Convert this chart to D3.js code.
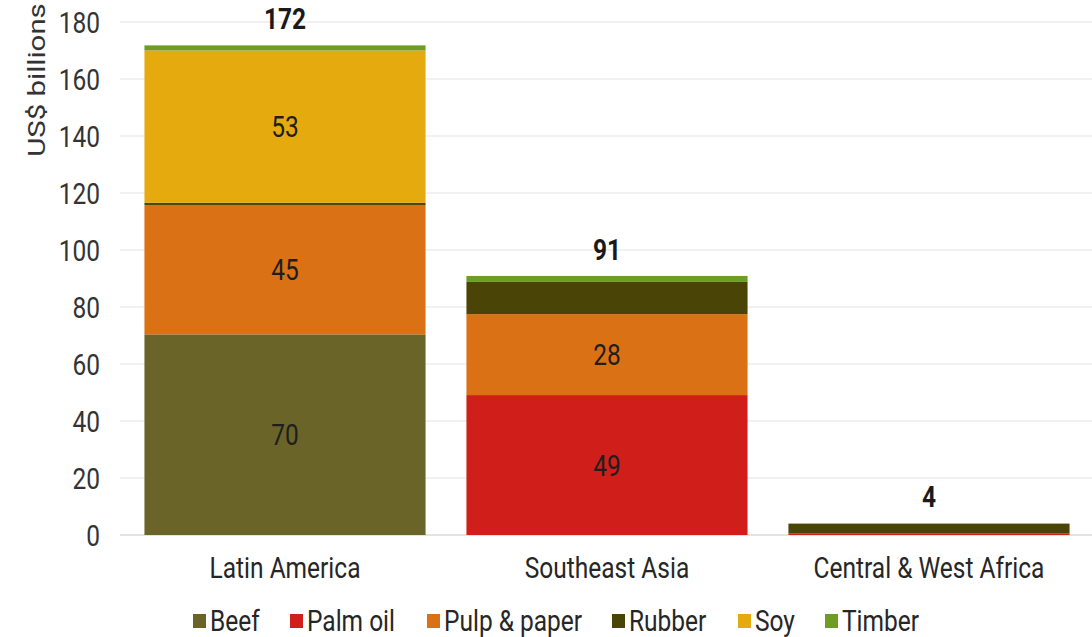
<!DOCTYPE html>
<html>
<head>
<meta charset="utf-8">
<script src="https://cdn.jsdelivr.net/npm/d3@7"></script>
<style>
  html, body { margin: 0; padding: 0; background: #ffffff; }
  svg { display: block; font-family: Roboto, "Noto Sans", sans-serif; }
</style>
</head>
<body>
<svg id="chart" width="1092" height="637"></svg>
<script>
// Regions along the x axis
const regions = ["Latin America", "Southeast Asia", "Central & West Africa"];

// Commodity series, stacked bottom to top (US$ billions per region)
const commodities = ["Beef", "Palm oil", "Pulp & paper", "Rubber", "Soy", "Timber"];
const beef       = [70.4, 0, 0];
const palmOil    = [0, 49.1, 0.6];
const pulpPaper  = [45.4, 28.4, 0];
const rubber     = [0.8, 11.3, 3.4];
const soy        = [53.4, 0, 0];
const timber     = [1.8, 2.1, 0];

const yTicks = [0, 20, 40, 60, 80, 100, 120, 140, 160, 180];

const colors = {
  "Beef": "#6b6428",
  "Palm oil": "#d01f1a",
  "Pulp & paper": "#da7115",
  "Rubber": "#4b4407",
  "Soy": "#e5ab0e",
  "Timber": "#6d9d25"
};

const seriesValues = {
  "Beef": beef,
  "Palm oil": palmOil,
  "Pulp & paper": pulpPaper,
  "Rubber": rubber,
  "Soy": soy,
  "Timber": timber
};

const rows = regions.map((r, i) => {
  const row = { region: r };
  commodities.forEach(c => { row[c] = seriesValues[c][i]; });
  return row;
});

// Text is drawn a little taller than wide
const FONT = 24.5;
const STRETCH = 1.2;

const svg = d3.select("#chart");

const x = d3.scaleBand()
  .domain(regions)
  .range([124, 1090])
  .paddingInner(0.127)
  .paddingOuter(0.0635);

const y = d3.scaleLinear()
  .domain([0, 180])
  .range([535, 22]);

// Adds a label whose glyphs are stretched vertically around (px, py)
function label(parent, px, py, txt, opts = {}) {
  const g = parent.append("g")
    .attr("transform", `translate(${px},${py}) ${opts.rotate ? "rotate(-90) scale(" + STRETCH + ",1)" : "scale(1," + STRETCH + ")"}`);
  return g.append("text")
    .attr("x", 0)
    .attr("y", 0)
    .attr("dy", "0.36em")
    .attr("text-anchor", opts.anchor || "middle")
    .attr("font-size", FONT)
    .attr("font-weight", opts.bold ? "bold" : "normal")
    .attr("fill", opts.fill || "#262626")
    .text(txt);
}

// Horizontal gridlines
svg.append("g")
  .selectAll("line")
  .data(yTicks)
  .join("line")
  .attr("x1", 120)
  .attr("x2", 1092)
  .attr("y1", d => y(d))
  .attr("y2", d => y(d))
  .attr("stroke", d => d === 0 ? "#c8c8c8" : "#e3e3e3")
  .attr("stroke-width", 1);

// Y axis tick labels
const yAxis = d3.axisLeft(y).tickValues(yTicks).tickSize(0).tickPadding(0);
const yg = svg.append("g").attr("transform", "translate(100,0)").call(yAxis);
yg.select(".domain").remove();
yg.selectAll(".tick text")
  .attr("font-size", FONT)
  .attr("font-family", "Roboto, sans-serif")
  .attr("fill", "#333333")
  .attr("y", 0)
  .attr("dy", "0.36em")
  .attr("transform", `scale(1,${STRETCH})`);

// Y axis title
label(svg, 36, 80, "US$ billions", { rotate: true, fill: "#333333" });

// Stacked bars
const stack = d3.stack().keys(commodities);
const stacked = stack(rows);

const layers = svg.append("g")
  .selectAll("g")
  .data(stacked)
  .join("g")
  .attr("fill", d => colors[d.key]);

layers.selectAll("rect")
  .data(d => d.map(p => ({ key: d.key, y0: p[0], y1: p[1], region: p.data.region })))
  .join("rect")
  .attr("x", d => x(d.region))
  .attr("width", x.bandwidth())
  .attr("y", d => y(d.y1))
  .attr("height", d => Math.max(0, y(d.y0) - y(d.y1)));

// Segment value labels for the larger segments
const segGroup = svg.append("g");
stacked.forEach(layer => {
  layer.forEach(p => {
    const v = p[1] - p[0];
    if (v >= 20) {
      label(segGroup, x(p.data.region) + x.bandwidth() / 2, y((p[0] + p[1]) / 2),
        d3.format(".0f")(v), { fill: "#1e1e1e" });
    }
  });
});

// Totals above each bar
const totGroup = svg.append("g");
rows.forEach(r => {
  const total = d3.sum(commodities, c => r[c]);
  label(totGroup, x(r.region) + x.bandwidth() / 2, y(total) - 27,
    d3.format(".0f")(total), { bold: true, fill: "#1a1a1a" });
});

// Category axis labels
const xAxis = d3.axisBottom(x).tickSize(0).tickPadding(0);
const xg = svg.append("g").attr("transform", "translate(0,567)").call(xAxis);
xg.select(".domain").remove();
xg.selectAll(".tick text")
  .attr("font-size", FONT)
  .attr("font-family", "Roboto, sans-serif")
  .attr("fill", "#262626")
  .attr("y", 0)
  .attr("dy", "0.36em")
  .attr("transform", `scale(1,${STRETCH})`);

// Legend
const legendX = [193, 290, 427, 612, 738, 825];
const legend = svg.append("g").attr("transform", "translate(0,620)");
const items = legend.selectAll("g")
  .data(commodities)
  .join("g")
  .attr("transform", (d, i) => `translate(${legendX[i]},0)`);

items.append("rect")
  .attr("x", 0)
  .attr("y", -6)
  .attr("width", 13)
  .attr("height", 14)
  .attr("fill", d => colors[d]);

items.each(function (d) {
  label(d3.select(this), 17, 0, d, { anchor: "start", fill: "#262626" });
});
</script>
</body>
</html>
